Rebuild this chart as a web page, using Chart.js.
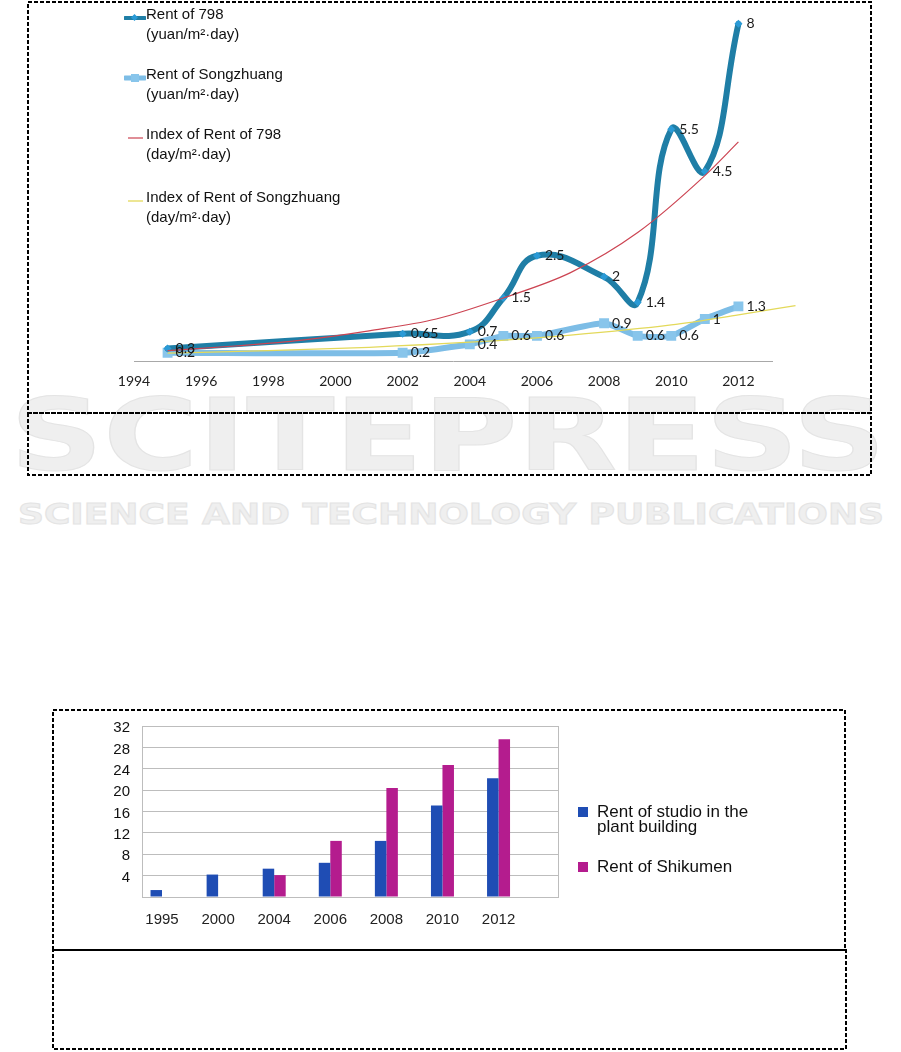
<!DOCTYPE html>
<html><head><meta charset="utf-8">
<script src="https://cdn.jsdelivr.net/npm/chart.js@4.4.0/dist/chart.umd.min.js"></script>
<style>
html,body{margin:0;padding:0;background:#fff;}
#page{position:relative;width:901px;height:1052px;overflow:hidden;background:#fff;}
.abs{position:absolute;}
.lg{position:absolute;font-family:"Liberation Sans",Arial,sans-serif;font-size:15px;color:#111;line-height:20px;white-space:nowrap;}
.lg2{position:absolute;font-family:"Liberation Sans",Arial,sans-serif;font-size:17px;color:#111;line-height:15px;white-space:nowrap;}
</style></head><body><div id="page">
<svg class="abs" style="left:0;top:0" width="901" height="1052">
  <text x="10" y="470" font-family="DejaVu Sans" font-weight="bold" font-size="99" textLength="876" lengthAdjust="spacingAndGlyphs" fill="#efefef" stroke="#e4e4e4" stroke-width="1">SCITEPRESS</text>
  <text x="18" y="524" font-family="DejaVu Sans" font-weight="bold" font-size="29" textLength="866" lengthAdjust="spacingAndGlyphs" fill="#efefef" stroke="#e4e4e4" stroke-width="1">SCIENCE AND TECHNOLOGY PUBLICATIONS</text>
</svg>
<div class="abs" style="left:0;top:0;width:901px;height:412px"><canvas id="c1"></canvas></div>
<div class="abs" style="left:0;top:700px;width:901px;height:264px"><canvas id="c2"></canvas></div>
<div id="legendTop"></div>
<div id="legendBar"></div>
<svg class="abs" style="left:0;top:0;pointer-events:none" width="901" height="1052">
  <g fill="none" stroke="#000" stroke-width="2" stroke-dasharray="4 2">
    <rect x="28" y="2" width="843" height="411"/>
    <rect x="28" y="413" width="843" height="62"/>
    <rect x="53" y="710" width="792" height="240"/>
    <rect x="53" y="950" width="793" height="99"/>
  </g>
</svg>
</div>
<script>
// ---------- Data: top line chart ----------
const xTickYears = [1994, 1996, 1998, 2000, 2002, 2004, 2006, 2008, 2010, 2012];
const years798 = [1995, 2002, 2004, 2005, 2006, 2008, 2009, 2010, 2011, 2012];
const rent798 = [0.3, 0.65, 0.7, 1.5, 2.5, 2, 1.4, 5.5, 4.5, 8];
const yearsSZ = [1995, 2002, 2004, 2005, 2006, 2008, 2009, 2010, 2011, 2012];
const rentSZ = [0.2, 0.2, 0.4, 0.6, 0.6, 0.9, 0.6, 0.6, 1, 1.3];
const trend798Years = [1995, 1997, 1999, 2001, 2003, 2005, 2007, 2009, 2011, 2012];
const trend798 = [0.25, 0.36, 0.5, 0.72, 1.0, 1.5, 2.1, 3.05, 4.4, 5.2];
const trendSZYears = [1995, 1998, 2001, 2004, 2007, 2010, 2012, 2013.7];
const trendSZ = [0.19, 0.25, 0.33, 0.45, 0.62, 0.86, 1.1, 1.32];
const legendTopLabels = [
  ['Rent of 798', '(yuan/m\u00b2\u00b7day)'],
  ['Rent of Songzhuang', '(yuan/m\u00b2\u00b7day)'],
  ['Index of Rent of 798', '(day/m\u00b2\u00b7day)'],
  ['Index of Rent of Songzhuang', '(day/m\u00b2\u00b7day)']
];

// ---------- Data: bar chart ----------
const barYears = ['1995', '2000', '2004', '2006', '2008', '2010', '2012'];
const studioRent = [1.3, 4.2, 5.3, 6.4, 10.5, 17.1, 22.2];
const shikumenRent = [null, null, 4.1, 10.5, 20.4, 24.7, 29.5];
const barTicks = [0, 4, 8, 12, 16, 20, 24, 28, 32];
const legendBarLabels = [['Rent of studio in the', 'plant building'], ['Rent of Shikumen']];

const C798 = '#1f7ea6', C798pt = '#2a9ad6', CSZ = '#7dbde6', CSZpt = '#88c5eb', CRED = '#cc4452', CYEL = '#e3d95a';
const CBLUE = '#1f4db4', CMAG = '#b41c8e';

const pts = (xs, ys) => xs.map((x, i) => ({x: x, y: ys[i]}));

const valueLabels = {
  id: 'valueLabels',
  afterDatasetsDraw(chart) {
    const ctx = chart.ctx;
    chart.data.datasets.forEach((ds, i) => {
      if (!ds.showValues) return;
      const meta = chart.getDatasetMeta(i);
      ctx.save();
      ctx.font = '14px Lato, "Open Sans", sans-serif';
      ctx.fillStyle = '#1a1a1a';
      ctx.textBaseline = 'middle';
      ctx.textAlign = 'left';
      meta.data.forEach((el, j) => {
        ctx.fillText(String(ds.data[j].y), el.x + 8, el.y);
      });
      ctx.restore();
    });
  }
};

new Chart(document.getElementById('c1'), {
  type: 'line',
  data: {
    datasets: [
      {label: legendTopLabels[0].join(' '), data: pts(years798, rent798), borderColor: C798, borderWidth: 6,
       tension: 0.45, pointStyle: 'rectRot', pointRadius: 4, pointBackgroundColor: C798pt, pointBorderWidth: 0,
       borderCapStyle: 'round', borderJoinStyle: 'round', showValues: true, order: 2},
      {label: legendTopLabels[1].join(' '), data: pts(yearsSZ, rentSZ), borderColor: CSZ, borderWidth: 6,
       tension: 0.2, pointStyle: 'rect', pointRadius: 7, pointBackgroundColor: CSZpt, pointBorderWidth: 0,
       borderCapStyle: 'round', borderJoinStyle: 'round', showValues: true, order: 3},
      {label: legendTopLabels[2].join(' '), data: pts(trend798Years, trend798), borderColor: CRED, borderWidth: 1.2,
       cubicInterpolationMode: 'monotone', pointRadius: 0, order: 0},
      {label: legendTopLabels[3].join(' '), data: pts(trendSZYears, trendSZ), borderColor: CYEL, borderWidth: 1.3,
       cubicInterpolationMode: 'monotone', pointRadius: 0, clip: false, order: 1}
    ]
  },
  options: {
    responsive: true, maintainAspectRatio: false, animation: false, devicePixelRatio: 1,
    layout: {padding: {left: 134, right: 129, top: 5, bottom: 10}},
    plugins: {legend: {display: false}, tooltip: {enabled: false}},
    scales: {
      x: {type: 'linear', min: 1994, max: 2013, offset: false,
          grid: {display: false, drawTicks: false},
          border: {display: true, color: '#a8a8a8', width: 1},
          ticks: {padding: 12, color: '#222', font: {family: 'Lato', size: 14}, callback: v => String(v), maxRotation: 0, autoSkip: false},
          afterBuildTicks: s => { s.ticks = xTickYears.map(v => ({value: v})); }},
      y: {display: false, min: 0, max: 8.4}
    }
  },
  plugins: [valueLabels]
});

new Chart(document.getElementById('c2'), {
  type: 'bar',
  data: {
    datasets: [
      {label: legendBarLabels[0].join(' '), data: studioRent.map((v, i) => ({x: i, y: v})), backgroundColor: CBLUE,
       barPercentage: 1, categoryPercentage: 0.41},
      {label: legendBarLabels[1].join(' '), data: shikumenRent.map((v, i) => ({x: i, y: v})), backgroundColor: CMAG,
       barPercentage: 1, categoryPercentage: 0.41}
    ]
  },
  options: {
    responsive: true, maintainAspectRatio: false, animation: false, devicePixelRatio: 1,
    layout: {padding: {left: 60, right: 343, top: 26, bottom: 21}},
    plugins: {legend: {display: false}, tooltip: {enabled: false}},
    scales: {
      x: {type: 'linear', min: -0.357, max: 7.06, offset: false,
          grid: {display: false, drawTicks: false},
          border: {display: true, color: '#bdbdbd', width: 1},
          ticks: {padding: 14, color: '#222', font: {family: 'Liberation Sans', size: 15}, maxRotation: 0, autoSkip: false,
                  callback: v => (barYears[v] !== undefined ? barYears[v] : '')},
          afterBuildTicks: s => { s.ticks = barYears.map((_, i) => ({value: i})); }},
      y: {min: 0, max: 32,
          grid: {color: '#bdbdbd', drawTicks: false},
          border: {display: true, color: '#bdbdbd'},
          ticks: {padding: 12, labelOffset: 2, color: '#111', font: {family: 'Liberation Sans', size: 15}, autoSkip: false,
                  callback: v => (v === 0 ? '' : String(v))},
          afterBuildTicks: s => { s.ticks = barTicks.map(v => ({value: v})); },
          afterFit: s => { s.width = 82; }},
      y2: {position: 'right', min: 0, max: 32,
           grid: {drawOnChartArea: false, drawTicks: false},
           border: {display: true, color: '#bdbdbd'},
           ticks: {display: false},
           afterFit: s => { s.width = 0; }}
    }
  }
});

// ---------- HTML legends ----------
const lt = document.getElementById('legendTop');
const topRows = [14, 74, 134, 197];
const markers = [
  '<svg width="22" height="10"><line x1="1" y1="5" x2="21" y2="5" stroke="' + C798 + '" stroke-width="4" stroke-linecap="round"/><rect x="8" y="2" width="5" height="5" fill="' + C798pt + '" transform="rotate(45 10.5 4.5)"/></svg>',
  '<svg width="22" height="10"><line x1="1" y1="5" x2="21" y2="5" stroke="' + CSZ + '" stroke-width="5" stroke-linecap="round"/><rect x="7" y="1" width="8" height="8" fill="' + CSZpt + '"/></svg>',
  '<svg width="22" height="10"><line x1="4" y1="5" x2="19" y2="5" stroke="' + CRED + '" stroke-width="1.2"/></svg>',
  '<svg width="22" height="10"><line x1="4" y1="5" x2="19" y2="5" stroke="' + CYEL + '" stroke-width="1.3"/></svg>'
];
legendTopLabels.forEach((lines, i) => {
  const m = document.createElement('div');
  m.style.cssText = 'position:absolute;left:124px;top:' + (topRows[i] - 5) + 'px;height:10px;';
  m.innerHTML = markers[i];
  lt.appendChild(m);
  const t = document.createElement('div');
  t.className = 'lg';
  t.style.left = '146px';
  t.style.top = (topRows[i] - 10) + 'px';
  t.innerHTML = lines.join('<br>');
  lt.appendChild(t);
});
const lb = document.getElementById('legendBar');
const barRows = [812, 867];
[CBLUE, CMAG].forEach((c, i) => {
  const sq = document.createElement('div');
  sq.style.cssText = 'position:absolute;left:578px;top:' + (barRows[i] - 5) + 'px;width:10px;height:10px;background:' + c + ';';
  lb.appendChild(sq);
  const t = document.createElement('div');
  t.className = 'lg2';
  t.style.left = '597px';
  t.style.top = (barRows[i] - 8) + 'px';
  t.innerHTML = legendBarLabels[i].join('<br>');
  lb.appendChild(t);
});
</script>
</body></html>
